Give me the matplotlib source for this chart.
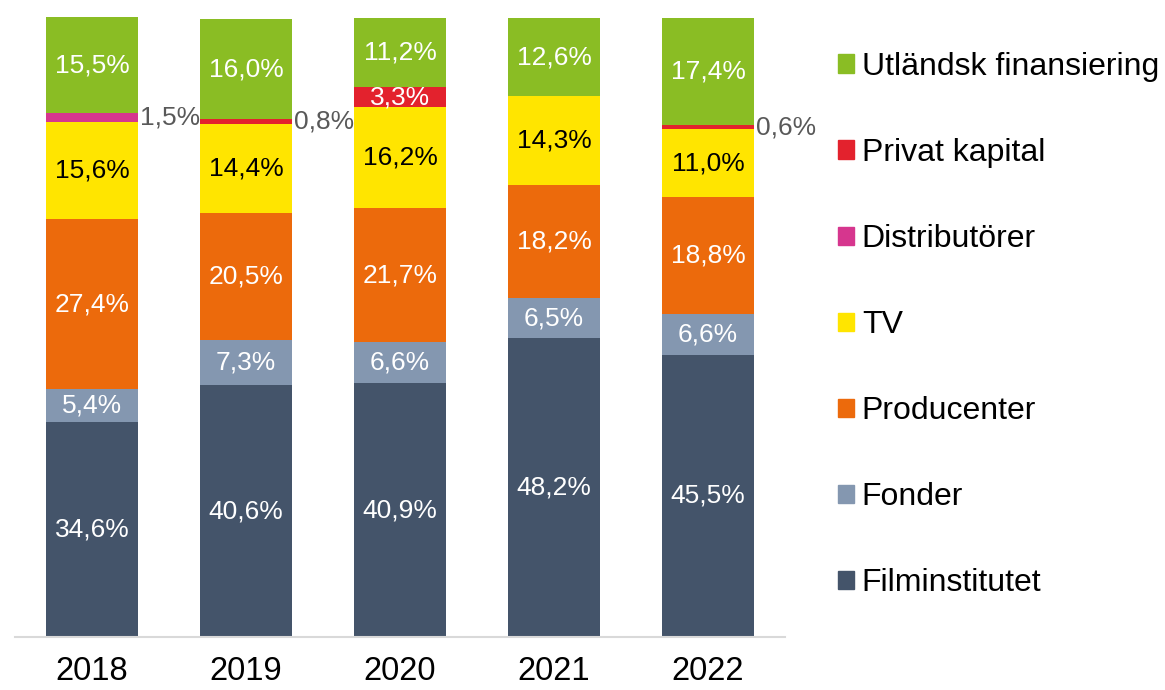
import matplotlib.pyplot as plt
from matplotlib.patches import Patch
import numpy as np

plt.rcParams['font.family'] = ['Liberation Sans', 'DejaVu Sans']

years = ['2018', '2019', '2020', '2021', '2022']
series = ['Filminstitutet', 'Fonder', 'Producenter', 'TV',
          'Distributörer', 'Privat kapital', 'Utländsk finansiering']

filminstitutet = [34.6, 40.6, 40.9, 48.2, 45.5]
fonder = [5.4, 7.3, 6.6, 6.5, 6.6]
producenter = [27.4, 20.5, 21.7, 18.2, 18.8]
tv = [15.6, 14.4, 16.2, 14.3, 11.0]
distributorer = [1.5, 0.0, 0.0, 0.0, 0.0]
privat = [0.0, 0.8, 3.3, 0.0, 0.6]
utlandsk = [15.5, 16.0, 11.2, 12.6, 17.4]

colors = ['#44546A', '#8497B0', '#EC6A0C', '#FFE500', '#D6368E', '#E3222D', '#8ABD24']
txtcol = ['white', 'white', 'white', 'black', 'white', 'white', 'white']

data = [filminstitutet, fonder, producenter, tv, distributorer, privat, utlandsk]

fig = plt.figure(figsize=(11.65, 6.9), dpi=100)
ax = fig.add_axes([0.0129, 0.0768, 0.6609, 0.8986])

x = np.arange(len(years))
bottom = np.zeros(len(years))
for vals, c, tc in zip(data, colors, txtcol):
    vals = np.array(vals)
    ax.bar(x, vals, 0.6, bottom=bottom, color=c)
    for i, v in enumerate(vals):
        if v == 0:
            continue
        lab = f"{v:.1f}%".replace('.', ',')
        if v < 2:
            ax.text(x[i] + 0.31, bottom[i] + v / 2, lab, ha='left', va='center',
                    fontsize=19, color='#595959')
        else:
            ax.text(x[i], bottom[i] + v / 2, lab, ha='center', va='center',
                    fontsize=19, color=tc)
    bottom += vals

ax.set_xlim(-0.5, 4.5)
ax.set_ylim(0, 100)
ax.set_xticks(x)
ax.set_xticklabels(years, fontsize=23.5)
ax.tick_params(axis='x', length=0, pad=14)
ax.set_yticks([])
for s in ['top', 'right', 'left']:
    ax.spines[s].set_visible(False)
ax.spines['bottom'].set_color('#D9D9D9')
ax.spines['bottom'].set_linewidth(1.5)

handles = [Patch(color=c) for c in colors][::-1]
fig.legend(handles, series[::-1], loc='upper left', bbox_to_anchor=(0.7055, 0.948),
           frameon=False, fontsize=23, handlelength=0.5, handleheight=0.5,
           handletextpad=0.25, labelspacing=1.755, borderpad=0)

plt.savefig('out.png', dpi=100)
